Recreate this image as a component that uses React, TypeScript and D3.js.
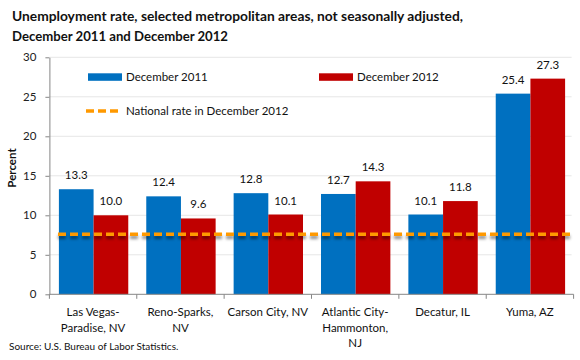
import React, { useEffect, useRef } from "react";
import * as d3 from "d3";

const categories = ["Las Vegas-Paradise, NV", "Reno-Sparks, NV", "Carson City, NV", "Atlantic City-Hammonton, NJ", "Decatur, IL", "Yuma, AZ"];
const categoryLines = [["Las Vegas-", "Paradise, NV"], ["Reno-Sparks,", "NV"], ["Carson City, NV"], ["Atlantic City-", "Hammonton,", "NJ"], ["Decatur, IL"], ["Yuma, AZ"]];
const seriesNames = ["December 2011", "December 2012"];
const dec2011 = [13.3, 12.4, 12.8, 12.7, 10.1, 25.4];
const dec2012 = [10.0, 9.6, 10.1, 14.3, 11.8, 27.3];
const nationalRate = 7.6;
const nationalLabel = "National rate in December 2012";
const yTicks = [0, 5, 10, 15, 20, 25, 30];

const colors = ["#0070C0", "#C00000"];
const orange = "#FF9900";
const font = "Lato, 'Liberation Sans', sans-serif";

export default function App() {
  const ref = useRef<SVGSVGElement>(null);

  useEffect(() => {
    const svg = d3.select(ref.current);
    svg.selectAll("*").remove();

    const left = 49.4, right = 573.6, top = 57.3, bottom = 294.3;

    // scales
    const x = d3.scaleBand().domain(categories).range([left, right]);
    const x1 = d3.scaleBand().domain(seriesNames).range([9.5, x.bandwidth() - 8.5]);
    const y = d3.scaleLinear().domain([0, 30]).range([bottom, top]);

    // shadow for the national rate line (userSpaceOnUse, the line has no height)
    const defs = svg.append("defs");
    const f = defs.append("filter").attr("id", "shadow").attr("filterUnits", "userSpaceOnUse")
      .attr("x", 0).attr("y", 0).attr("width", 580).attr("height", 360);
    f.append("feDropShadow").attr("dx", 0).attr("dy", 3).attr("stdDeviation", 1.8)
      .attr("flood-color", "#000").attr("flood-opacity", 0.45);

    // title
    const title = svg.append("g").attr("font-family", font).attr("font-weight", "bold").attr("font-size", 13.5).attr("fill", "#111");
    title.append("text").attr("x", 12).attr("y", 21).attr("textLength", 451).attr("lengthAdjust", "spacingAndGlyphs")
      .text("Unemployment rate, selected metropolitan areas, not seasonally adjusted,");
    title.append("text").attr("x", 12).attr("y", 40.5).attr("textLength", 216).attr("lengthAdjust", "spacingAndGlyphs")
      .text("December 2011 and December 2012");

    // gridlines
    svg.append("g").selectAll("line").data(yTicks.filter((d) => d > 0)).enter().append("line")
      .attr("x1", left).attr("x2", right - 2).attr("y1", (d) => y(d)).attr("y2", (d) => y(d))
      .attr("stroke", "#E6E6E6").attr("stroke-width", 1);

    // y axis
    const yAxis = svg.append("g").attr("transform", `translate(${left},0)`)
      .call(d3.axisLeft(y).tickValues(yTicks).tickSize(4).tickPadding(9).tickSizeOuter(0));
    yAxis.select(".domain").attr("stroke", "#868686");
    yAxis.selectAll(".tick line").attr("stroke", "#868686");
    yAxis.selectAll("text").attr("font-family", font).attr("font-size", 11.5).attr("fill", "#222");

    svg.append("text").attr("transform", `translate(16,168) rotate(-90)`).attr("text-anchor", "middle")
      .attr("font-family", font).attr("font-weight", "bold").attr("font-size", 11.5).attr("fill", "#111").text("Percent");

    // bars
    const groups = svg.append("g").selectAll("g").data(categories).enter().append("g")
      .attr("transform", (d) => `translate(${x(d)},0)`);
    [dec2011, dec2012].forEach((vals, s) => {
      groups.append("rect")
        .attr("x", x1(seriesNames[s])!).attr("width", x1.bandwidth())
        .attr("y", (_, i) => y(vals[i])).attr("height", (_, i) => bottom - y(vals[i]))
        .attr("fill", colors[s]);
      groups.append("text")
        .attr("x", x1(seriesNames[s])! + x1.bandwidth() / 2).attr("y", (_, i) => y(vals[i]) - 10)
        .attr("text-anchor", "middle").attr("font-family", font).attr("font-size", 11.5).attr("fill", "#111")
        .text((_, i) => vals[i].toFixed(1));
    });

    // x axis
    const xAxis = svg.append("g").attr("transform", `translate(0,${bottom})`);
    xAxis.append("line").attr("x1", left).attr("x2", right).attr("stroke", "#868686");
    xAxis.selectAll("line.tk").data(d3.range(categories.length + 1)).enter().append("line")
      .attr("x1", (i) => left + i * x.bandwidth()).attr("x2", (i) => left + i * x.bandwidth())
      .attr("y1", 0).attr("y2", 4.5).attr("stroke", "#868686");
    categories.forEach((c, i) => {
      const t = xAxis.append("text").attr("text-anchor", "middle").attr("font-family", font)
        .attr("font-size", 11.5).attr("fill", "#111");
      categoryLines[i].forEach((line, j) => {
        t.append("tspan").attr("x", x(c)! + x.bandwidth() / 2).attr("y", 22 + j * 15.6).text(line);
      });
    });

    // national rate line
    svg.append("line").attr("x1", 58).attr("x2", 570).attr("y1", y(nationalRate)).attr("y2", y(nationalRate))
      .attr("stroke", orange).attr("stroke-width", 3.5).attr("stroke-dasharray", "8,4").attr("filter", "url(#shadow)");

    // legend
    const lg = svg.append("g").attr("font-family", font).attr("font-size", 11.5).attr("fill", "#111");
    const legendX = [88, 319];
    seriesNames.forEach((s, i) => {
      lg.append("rect").attr("x", legendX[i]).attr("y", 73.3).attr("width", 34).attr("height", 7.5).attr("fill", colors[i]);
      lg.append("text").attr("x", legendX[i] + 38).attr("y", 80.5).text(s);
    });
    lg.append("line").attr("x1", 86).attr("x2", 119).attr("y1", 111).attr("y2", 111)
      .attr("stroke", orange).attr("stroke-width", 3.5).attr("stroke-dasharray", "8,4");
    lg.append("text").attr("x", 126).attr("y", 115).text(nationalLabel);

    // source
    svg.append("text").attr("x", 9).attr("y", 349.5).attr("font-family", font).attr("font-size", 10).attr("fill", "#111")
      .text("Source: U.S. Bureau of Labor Statistics.");
  }, []);

  return (
    <svg ref={ref} width={580} height={360} style={{ position: "absolute", left: 0, top: 0, background: "#fff" }} />
  );
}
